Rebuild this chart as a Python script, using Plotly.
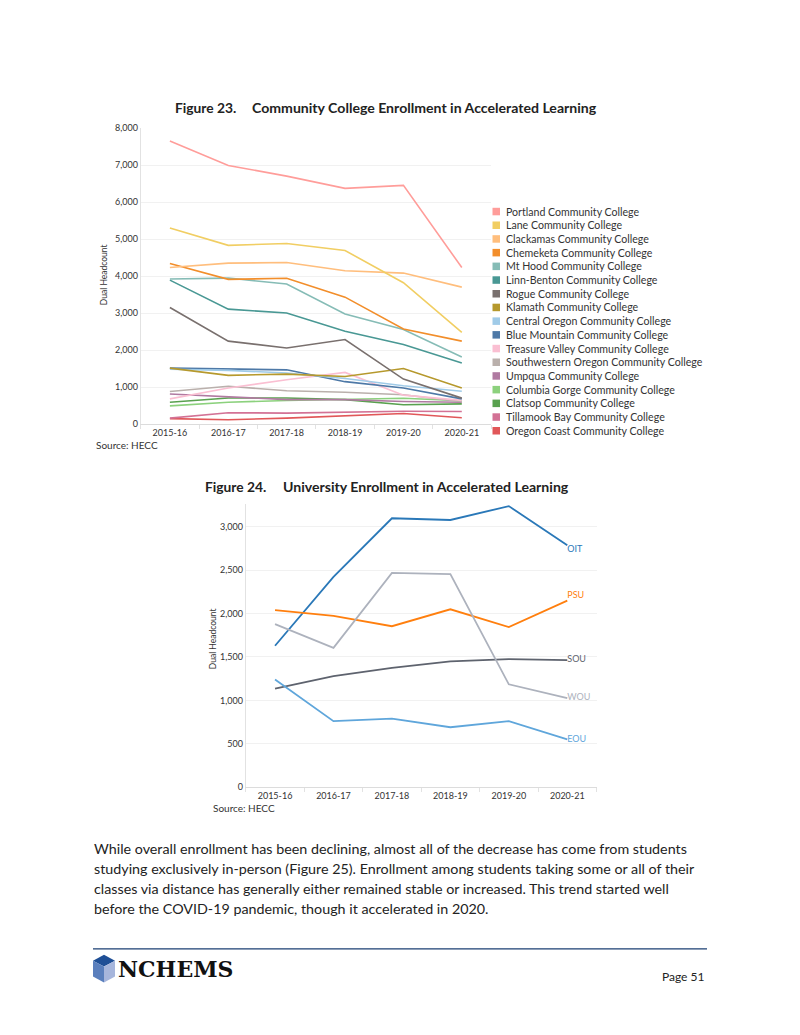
import plotly.graph_objects as go

# The page body has an 8px margin, so the figure is sized to fit the 800x1035 window exactly.
PAGE_W, PAGE_H = 800, 1035
BODY_MARGIN = 8
W, H = PAGE_W - 2 * BODY_MARGIN, PAGE_H - 2 * BODY_MARGIN
FONT = "Lato"


def px(x):
    return (x - BODY_MARGIN) / W


def py(y):
    return 1 - (y - BODY_MARGIN) / H


# ---------------- data ----------------
years = ["2015-16", "2016-17", "2017-18", "2018-19", "2019-20", "2020-21"]

cc_names = [
    "Portland Community College",
    "Lane Community College",
    "Clackamas Community College",
    "Chemeketa Community College",
    "Mt Hood Community College",
    "Linn-Benton Community College",
    "Rogue Community College",
    "Klamath Community College",
    "Central Oregon Community College",
    "Blue Mountain Community College",
    "Treasure Valley Community College",
    "Southwestern Oregon Community College",
    "Umpqua Community College",
    "Columbia Gorge Community College",
    "Clatsop Community College",
    "Tillamook Bay Community College",
    "Oregon Coast Community College",
]
cc_colors = [
    "#ff9d9a", "#f1ce63", "#ffbe7d", "#f28e2b", "#86bcb6", "#499894",
    "#79706e", "#b6992d", "#a0cbe8", "#4e79a7", "#fabfd2", "#bab0ac",
    "#b07aa1", "#8cd17d", "#59a14f", "#d37295", "#e15759",
]

portland = [7650, 6990, 6700, 6370, 6450, 4230]
lane = [5300, 4830, 4880, 4690, 3820, 2480]
clackamas = [4230, 4350, 4365, 4145, 4080, 3700]
chemeketa = [4340, 3910, 3940, 3430, 2570, 2240]
mt_hood = [3920, 3945, 3785, 2975, 2555, 1810]
linn_benton = [3890, 3105, 3000, 2510, 2150, 1650]
rogue = [3150, 2240, 2055, 2285, 1215, 700]
klamath = [1510, 1315, 1350, 1285, 1500, 975]
central_oregon = [1480, 1450, 1380, 1230, 1035, 885]
blue_mountain = [1510, 1485, 1465, 1145, 975, 680]
treasure_valley = [680, 975, 1195, 1395, 780, 640]
southwestern = [880, 1020, 900, 860, 790, 600]
umpqua = [810, 725, 660, 660, 610, 590]
columbia_gorge = [490, 590, 635, 660, 695, 630]
clatsop = [590, 705, 705, 660, 520, 545]
tillamook_bay = [160, 305, 295, 315, 345, 340]
oregon_coast = [145, 115, 160, 215, 285, 170]

cc_series = [
    portland, lane, clackamas, chemeketa, mt_hood, linn_benton, rogue,
    klamath, central_oregon, blue_mountain, treasure_valley, southwestern,
    umpqua, columbia_gorge, clatsop, tillamook_bay, oregon_coast,
]

uni_names = ["OIT", "PSU", "SOU", "WOU", "EOU"]
uni_colors = ["#2a78b8", "#ff7f0e", "#5e636e", "#adb2bd", "#5fa6db"]
oit = [1630, 2425, 3100, 3080, 3240, 2790]
psu = [2040, 1975, 1855, 2050, 1845, 2150]
sou = [1135, 1280, 1375, 1450, 1475, 1465]
wou = [1880, 1605, 2470, 2455, 1185, 1025]
eou = [1240, 760, 790, 690, 760, 550]
uni_series = [oit, psu, sou, wou, eou]
uni_label_pos = ["bottom right", "top right", "middle right", "middle right", "middle right"]

cc_ticks = [0, 1000, 2000, 3000, 4000, 5000, 6000, 7000, 8000]
uni_ticks = [0, 500, 1000, 1500, 2000, 2500, 3000]

body_lines = [
    "While overall enrollment has been declining, almost all of the decrease has come from students",
    "studying exclusively in-person (Figure 25). Enrollment among students taking some or all of their",
    "classes via distance has generally either remained stable or increased. This trend started well",
    "before the COVID-19 pandemic, though it accelerated in 2020.",
]

# ---------------- figure ----------------
fig = go.Figure()

for name, vals, color in reversed(list(zip(cc_names, cc_series, cc_colors))):
    fig.add_trace(go.Scatter(
        x=years, y=vals, mode="lines", name=name, showlegend=False,
        line=dict(color=color, width=1.6), xaxis="x", yaxis="y",
    ))

for name, vals, color, pos in zip(uni_names, uni_series, uni_colors, uni_label_pos):
    fig.add_trace(go.Scatter(
        x=years, y=vals, mode="lines+text", name=name, showlegend=False,
        text=[""] * (len(years) - 1) + [name], textposition=pos,
        textfont=dict(family=FONT, size=9, color=color),
        line=dict(color=color, width=1.8), xaxis="x2", yaxis="y2",
        cliponaxis=False,
    ))

tickfont = dict(family=FONT, size=9, color="#333333")
xcommon = dict(
    type="category", range=[-0.5, 5.5], showgrid=False, showline=True,
    linecolor="#dcdcdc", linewidth=1, ticks="outside", tickson="boundaries",
    ticklen=4, tickcolor="#e2e2e2", tickfont=tickfont, zeroline=False,
)
ycommon = dict(
    showgrid=True, gridcolor="#f1f1f1", gridwidth=1, showline=True,
    linecolor="#e2e2e2", zeroline=False, ticks="", tickformat=",",
    tickfont=tickfont,
)

fig.update_layout(
    width=W, height=H,
    margin=dict(l=0, r=0, t=0, b=0),
    paper_bgcolor="white", plot_bgcolor="white",
    showlegend=False,
    font=dict(family=FONT, color="#333333"),
    xaxis=dict(domain=[px(140.7), px(491)], anchor="y", **xcommon),
    yaxis=dict(domain=[py(422.5), py(123.3)], anchor="x", range=[0, 8000],
               tickvals=cc_ticks, **ycommon),
    xaxis2=dict(domain=[px(245.8), px(596.5)], anchor="y2", **xcommon),
    yaxis2=dict(domain=[py(789.5), py(503.3)], anchor="x2", range=[0, 3265],
                tickvals=uni_ticks, **ycommon),
)

annotations = []
shapes = []


def text(x, y, s, size, color="#222222", xanchor="left", bold=False, angle=0, family=FONT):
    annotations.append(dict(
        x=px(x), y=py(y), xref="paper", yref="paper", text=(f"<b>{s}</b>" if bold else s),
        showarrow=False, xanchor=xanchor, yanchor="middle", textangle=angle,
        font=dict(family=family, size=size, color=color),
    ))


# titles
text(173, 103, "Figure 23.", 13.8, bold=True)
text(250, 103, "Community College Enrollment in Accelerated Learning", 14.1, bold=True)
text(203, 486, "Figure 24.", 13.8, bold=True)
text(281, 486, "University Enrollment in Accelerated Learning", 14.1, bold=True)

# axis titles
text(104, 272, "Dual Headcount", 8.5, color="#333333", xanchor="center", angle=-90)
text(213, 640, "Dual Headcount", 8.5, color="#333333", xanchor="center", angle=-90)

# sources
text(94, 444, "Source: HECC", 10, color="#333333")
text(211, 811, "Source: HECC", 10, color="#333333")

# manual legend for figure 23
for i, (name, color) in enumerate(zip(cc_names, cc_colors)):
    yc = 207.7 + i * 13.85
    shapes.append(dict(
        type="rect", xref="paper", yref="paper",
        x0=px(492.5), x1=px(500), y0=py(yc + 3.8), y1=py(yc - 3.8),
        fillcolor=color, line=dict(width=0),
    ))
    text(504, yc, name, 10.6, color="#333333")

# body text
for i, line in enumerate(body_lines):
    text(92, 852 + i * 20, line, 14.3, color="#222222")

# footer rule
shapes.append(dict(
    type="line", xref="paper", yref="paper",
    x0=px(93), x1=px(707), y0=py(953), y1=py(953),
    line=dict(color="#1b3f73", width=1.3),
))


# logo cube
def path(points):
    return "M " + " L ".join(f"{px(a)},{py(b)}" for a, b in points) + " Z"


cube_faces = [
    ([(104, 959), (115, 965), (104, 971), (93, 965)], "#1f4f96"),
    ([(93, 965), (104, 971), (104, 987), (93, 981)], "#5a7fbd"),
    ([(104, 971), (115, 965), (115, 981), (104, 987)], "#a7b6dc"),
]
for pts, col in cube_faces:
    shapes.append(dict(type="path", xref="paper", yref="paper", path=path(pts),
                       fillcolor=col, line=dict(width=0)))

text(116, 973, "NCHEMS", 22, color="#111111", bold=True, family="DejaVu Serif")
text(706, 981, "Page 51", 12, color="#222222", xanchor="right")

fig.update_layout(annotations=annotations, shapes=shapes)

fig.write_html("out.html")
